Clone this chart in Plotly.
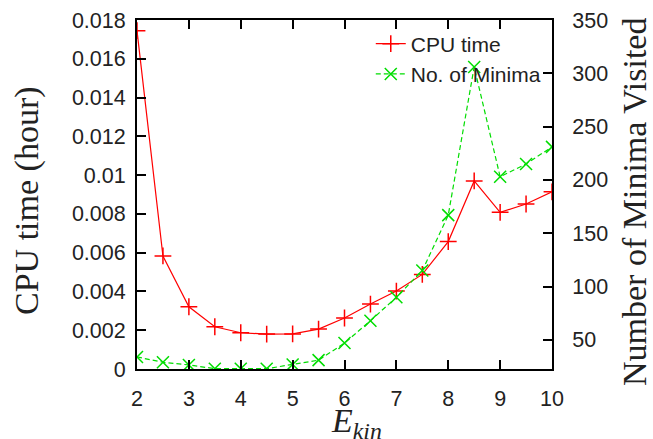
import plotly.graph_objects as go

e_kin = [2, 2.5, 3, 3.5, 4, 4.5, 5, 5.5, 6, 6.5, 7, 7.5, 8, 8.5, 9, 9.5, 10]
cpu_time = [0.01745, 0.00583, 0.00321, 0.00218, 0.00187, 0.0018, 0.00181, 0.00206,
            0.00263, 0.00335, 0.00402, 0.00488, 0.00657, 0.0097, 0.00808, 0.00851, 0.00914]
n_minima = [34, 29, 26.5, 23, 23, 23, 27, 31, 47, 68, 90, 115, 167, 306, 203, 215, 231]

x_ticks = [2, 3, 4, 5, 6, 7, 8, 9, 10]
y_ticks = [0, 0.002, 0.004, 0.006, 0.008, 0.01, 0.012, 0.014, 0.016, 0.018]
y_tick_text = ["0", "0.002", "0.004", "0.006", "0.008", "0.01", "0.012", "0.014", "0.016", "0.018"]
y2_ticks = [50, 100, 150, 200, 250, 300, 350]

x_title = "<i>E<sub>kin</sub></i>"
y_title = "CPU time (hour)"
y2_title = "Number of Minima Visited"

tick_font = dict(family="Liberation Sans, Arial, sans-serif", size=21.5, color="#222")
legend_font = dict(family="Liberation Sans, Arial, sans-serif", size=21, color="#222")
title_font = dict(family="Liberation Serif, Times New Roman, serif", size=34, color="#222")

fig = go.Figure()
fig.add_trace(go.Scatter(
    x=e_kin, y=cpu_time, name="CPU time", mode="lines+markers",
    line=dict(color="#ff0000", width=1.2),
    marker=dict(symbol="cross-thin-open", size=12, line=dict(color="#ff0000", width=1.5)),
))
fig.add_trace(go.Scatter(
    x=e_kin, y=n_minima, name="No. of Minima", mode="lines+markers", yaxis="y2",
    line=dict(color="#00dd00", width=1.2, dash="5px,3px"),
    marker=dict(symbol="x-thin-open", size=12, line=dict(color="#00dd00", width=1.5)),
))

# plot area in pixels: x 137..552, y 20..369
fig.update_layout(
    width=653, height=439,
    margin=dict(l=137, r=101, t=20, b=70, autoexpand=False),
    paper_bgcolor="white", plot_bgcolor="white",
    showlegend=True,
    legend=dict(x=0.985, y=0.99, xanchor="right", yanchor="top",
                bgcolor="rgba(0,0,0,0)", font=legend_font, tracegroupgap=0),
    xaxis=dict(range=[2, 10], tickvals=x_ticks, ticks="inside", ticklen=9, tickwidth=1.5,
               tickcolor="black", showline=True, linecolor="black", linewidth=2,
               mirror="ticks", showgrid=False, zeroline=False, tickfont=tick_font,
               ticklabelstandoff=9, automargin=False),
    yaxis=dict(range=[0, 0.018], tickvals=y_ticks, ticktext=y_tick_text, ticks="inside",
               ticklen=9, tickwidth=1.5, tickcolor="black", showline=True, linecolor="black",
               linewidth=2, mirror=True, showgrid=False, zeroline=False, tickfont=tick_font,
               ticklabelstandoff=5, automargin=False),
    yaxis2=dict(range=[22.7, 350], tickvals=y2_ticks, overlaying="y", side="right",
                ticks="inside", ticklen=9, tickwidth=1.5, tickcolor="black", showline=True,
                linecolor="black", linewidth=2, showgrid=False, zeroline=False,
                tickfont=tick_font, ticklabelstandoff=14, automargin=False),
    annotations=[
        dict(text=y_title, xref="paper", yref="paper", x=(27 - 137) / 415, y=(369 - 200) / 349,
             xanchor="center", yanchor="middle", textangle=-90, showarrow=False, font=title_font),
        dict(text=y2_title, xref="paper", yref="paper", x=(634 - 137) / 415, y=(369 - 202) / 349,
             xanchor="center", yanchor="middle", textangle=-90, showarrow=False, font=title_font),
        dict(text=x_title, xref="paper", yref="paper", x=(356 - 137) / 415, y=(369 - 423) / 349,
             xanchor="center", yanchor="middle", showarrow=False, font=title_font),
    ],
)

fig.write_html("out.html", config={"displayModeBar": False},
               post_script="document.body.style.margin='0px';")
